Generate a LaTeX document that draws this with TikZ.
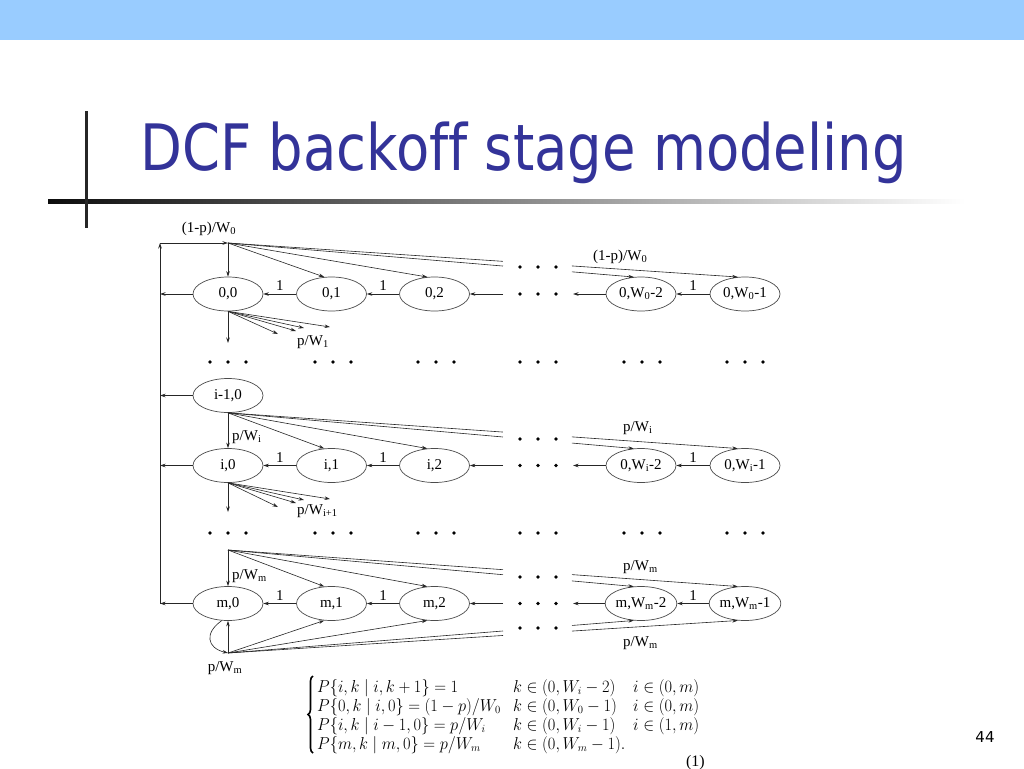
\documentclass[tikz,border=0pt]{standalone}
\usepackage[no-math]{fontspec}
\usepackage{graphicx}
\setmainfont{Liberation Serif}
\newfontfamily\titlefont[Ligatures=NoCommon]{DejaVu Sans}
\usetikzlibrary{shapes.geometric,arrows.meta,calc,decorations.pathreplacing}
\definecolor{band}{RGB}{153,204,255}
\definecolor{titleblue}{RGB}{51,51,153}
\newcommand\gapline[2]{%
  \draw[ln] (#1) -- (intersection of #1--#2 and 503,0--503,1);
  \draw[arr] (intersection of #1--#2 and 572,0--572,1) -- (#2);}
\newcommand\tdots[2]{\foreach \dx in {-18,0,18} \fill (#1+\dx,#2) circle (1.9pt);}
\newcommand\eqbox[1]{\scalebox{0.95}[1]{$#1$}}
\begin{document}
\begin{tikzpicture}[x=1pt,y=-1pt,
  st/.style={ellipse, draw=black!70, line width=0.7pt, minimum width=70pt, minimum height=34pt, inner sep=0pt, font=\fontsize{15}{17}\selectfont},
  ln/.style={draw=black!85, line width=0.6pt},
  arr/.style={ln, -{Stealth[length=5.5pt,width=3.5pt]}},
  lab/.style={font=\fontsize{15}{17}\selectfont, inner sep=0pt},
  eq/.style={font=\fontsize{16}{19}\selectfont, inner sep=0pt, anchor=base west}]
\useasboundingbox (0,0) rectangle (1024,768);
\fill[white] (0,0) rectangle (1024,768);
% slide decoration
\fill[band] (0,0) rectangle (1024,40);
\shade[left color=black!95, right color=white] (48,199.5) rectangle (965,203.5);
\draw[line width=3.5pt, black!85] (86.5,111) -- (86.5,228);
\node[anchor=base west, inner sep=0pt, text=titleblue] (title) at (140,170)
  {\scalebox{0.85}[1]{\titlefont\fontsize{64}{70}\selectfont DCF backoff stage modeling}};
\node[font=\titlefont\fontsize{15}{18}\selectfont] (pg) at (985,737) {44};

% states
\node[st] (a00) at (228,294) {0,0};
\node[st] (a01) at (331.5,294) {0,1};
\node[st] (a02) at (434.5,294) {0,2};
\node[st] (a0a) at (641,294) {0,W\textsubscript{0}-2};
\node[st] (a0b) at (745,294) {0,W\textsubscript{0}-1};
\node[st] (ah0) at (228,395.5) {i-1,0};
\node[st] (ai0) at (228,465.5) {i,0};
\node[st] (ai1) at (331.5,465.5) {i,1};
\node[st] (ai2) at (434.5,465.5) {i,2};
\node[st] (aia) at (641,465.5) {0,W\textsubscript{i}-2};
\node[st] (aib) at (745,465.5) {0,W\textsubscript{i}-1};
\node[st] (am0) at (228,603.5) {m,0};
\node[st] (am1) at (331.5,603.5) {m,1};
\node[st] (am2) at (434.5,603.5) {m,2};
\node[st] (ama) at (641,603.5) {m,W\textsubscript{m}-2};
\node[st] (amb) at (745,603.5) {m,W\textsubscript{m}-1};

% helper coordinates
\coordinate (top) at (160,243);
\coordinate (fan0) at (228,243);
\coordinate (fm) at (228,550);
\coordinate (bm) at (228,653);

% dots
\tdots{228}{362}\tdots{333}{362}\tdots{436}{362}\tdots{538}{362}\tdots{642}{362}\tdots{745}{362}
\tdots{228}{533}\tdots{333}{533}\tdots{436}{533}\tdots{538}{533}\tdots{642}{533}\tdots{745}{533}
\tdots{538}{267}\tdots{538}{294}
\tdots{538}{439}\tdots{538}{465.5}
\tdots{538}{577}\tdots{538}{603.5}\tdots{538}{628}

% left return line
\draw[arr] (a00.west) -- (a00.west -| top);
\draw[arr] (ah0.west) -- (ah0.west -| top);
\draw[arr] (ai0.west) -- (ai0.west -| top);
\draw[arr] (am0.west) -- (am0.west -| top);
\draw[arr] (am0.west -| top) -- (top);
\draw[arr] (top) -- (fan0);

% row 0
\node[lab] (l0) at (209,229) {(1-p)/W\textsubscript{0}};
\draw[arr] (fan0) -- (a00.north);
\draw[arr] (fan0) -- (a01.113);
\draw[arr] (fan0) -- (a02.113);
\gapline{fan0}{a0a.113}
\gapline{fan0}{a0b.113}
\node[lab, anchor=west] (l0r) at (593,257) {(1-p)/W\textsubscript{0}};
\draw[arr] (a01.west) -- node[lab, above=3pt] {1} (a00.east);
\draw[arr] (a02.west) -- node[lab, above=3pt] {1} (a01.east);
\draw[arr] (503,294) -- (a02.east);
\draw[arr] (a0a.west) -- (573,294);
\draw[arr] (a0b.west) -- node[lab, above=3pt] {1} (a0a.east);
\draw[arr] (a00.south) -- (228,343);
\foreach \p in {(278,334),(296,331),(304,328),(330,327)} \draw[arr] (a00.south) -- \p;
\node[lab, anchor=west] (l1) at (297,342) {p/W\textsubscript{1}};

% row i
\draw[arr] (ah0.south) -- (ai0.north);
\node[lab, anchor=west] (li) at (232,437) {p/W\textsubscript{i}};
\draw[arr] (ah0.south) -- (ai1.113);
\draw[arr] (ah0.south) -- (ai2.113);
\gapline{ah0.south}{aia.113}
\gapline{ah0.south}{aib.113}
\node[lab, anchor=west] (lir) at (623,428) {p/W\textsubscript{i}};
\draw[arr] (ai1.west) -- node[lab, above=3pt] {1} (ai0.east);
\draw[arr] (ai2.west) -- node[lab, above=3pt] {1} (ai1.east);
\draw[arr] (503,465.5) -- (ai2.east);
\draw[arr] (aia.west) -- (573,465.5);
\draw[arr] (aib.west) -- node[lab, above=3pt] {1} (aia.east);
\draw[arr] (ai0.south) -- (228,512);
\foreach \p in {(278,507),(296,503),(304,500),(330,499)} \draw[arr] (ai0.south) -- \p;
\node[lab, anchor=west] (li1) at (297,511) {p/W\textsubscript{i+1}};

% row m
\draw[arr] (fm) -- (am0.north);
\node[lab, anchor=west] (lm) at (232,576) {p/W\textsubscript{m}};
\draw[arr] (fm) -- (am1.113);
\draw[arr] (fm) -- (am2.113);
\gapline{fm}{ama.113}
\gapline{fm}{amb.113}
\node[lab, anchor=west] (lmr) at (623,567) {p/W\textsubscript{m}};
\draw[arr] (am1.west) -- node[lab, above=3pt] {1} (am0.east);
\draw[arr] (am2.west) -- node[lab, above=3pt] {1} (am1.east);
\draw[arr] (503,603.5) -- (am2.east);
\draw[arr] (ama.west) -- (573,603.5);
\draw[arr] (amb.west) -- node[lab, above=3pt] {1} (ama.east);
\draw[arr] (bm) -- (am0.south);
\draw[arr] (am0.250) .. controls (204,633) and (207,648) .. (bm);
\draw[arr] (bm) -- (am1.247);
\draw[arr] (bm) -- (am2.247);
\gapline{bm}{ama.247}
\gapline{bm}{amb.247}
\node[lab] (lmb) at (225,668) {p/W\textsubscript{m}};
\node[lab, anchor=west] (lmr2) at (623,643) {p/W\textsubscript{m}};

% equations
\draw[decorate, decoration={brace, amplitude=5pt}, line width=1.6pt] (313,753) -- (313,676);
\node[eq] (e11) at (317,692) {\eqbox{P\{i,k\mid i,k+1\}=1}};
\node[eq] (e21) at (317,711) {\eqbox{P\{0,k\mid i,0\}=(1-p)/W_0}};
\node[eq] (e31) at (317,730) {\eqbox{P\{i,k\mid i-1,0\}=p/W_i}};
\node[eq] (e41) at (317,749) {\eqbox{P\{m,k\mid m,0\}=p/W_m}};
\node[eq] (e12) at (513,692) {\eqbox{k\in(0,W_i-2)}};
\node[eq] (e22) at (513,711) {\eqbox{k\in(0,W_0-1)}};
\node[eq] (e32) at (513,730) {\eqbox{k\in(0,W_i-1)}};
\node[eq] (e42) at (513,749) {\eqbox{k\in(0,W_m-1).}};
\node[eq] (e13) at (633,692) {\eqbox{i\in(0,m)}};
\node[eq] (e23) at (633,711) {\eqbox{i\in(0,m)}};
\node[eq] (e33) at (633,730) {\eqbox{i\in(1,m)}};
\node[eq, anchor=base east] (num) at (705,766) {(1)};
\end{tikzpicture}
\end{document}
